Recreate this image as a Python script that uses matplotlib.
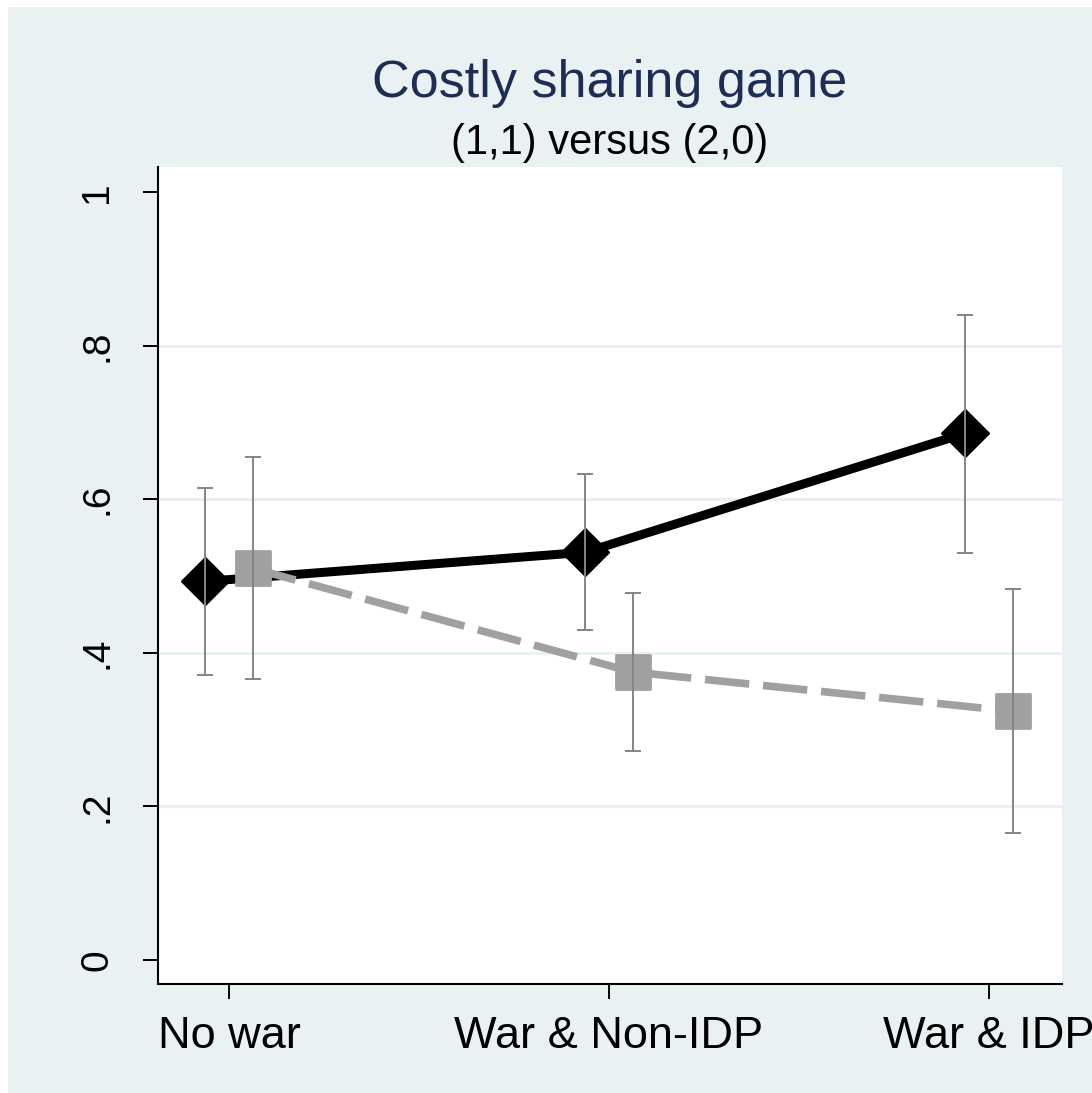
import matplotlib
matplotlib.use("Agg")
import matplotlib.pyplot as plt
from matplotlib.markers import MarkerStyle
from matplotlib.patches import Rectangle
import numpy as np

# data
categories = ["No war", "War & Non-IDP", "War & IDP"]
black_mean = [0.493, 0.531, 0.686]
black_lo = [0.371, 0.430, 0.530]
black_hi = [0.614, 0.633, 0.840]
gray_mean = [0.510, 0.375, 0.324]
gray_lo = [0.366, 0.272, 0.165]
gray_hi = [0.655, 0.478, 0.483]
yticks = [0, 0.2, 0.4, 0.6, 0.8, 1.0]
ytick_labels = ["0", ".2", ".4", ".6", ".8", "1"]

plt.rcParams["font.family"] = ["Liberation Sans", "DejaVu Sans"]
plt.rcParams["lines.scale_dashes"] = False

BG = "#EAF1F3"
GRAY = "#A0A0A0"
ERR = "#858585"

fig = plt.figure(figsize=(10.92, 10.93), dpi=100, facecolor="white")
# light background panel (white strip left/top as in the crop)
fig.patches.append(Rectangle((8 / 1092, 0), 1 - 8 / 1092, 1 - 7 / 1093,
                             transform=fig.transFigure, facecolor=BG,
                             edgecolor="none", zorder=-10))

ax = fig.add_axes([158 / 1092, 1 - 984 / 1093, (1062 - 158) / 1092, (984 - 167) / 1093])
ax.set_facecolor("white")

x = np.arange(1, len(categories) + 1)
off = 0.062

# grid only at inner ticks
for g in yticks[1:-1]:
    ax.axhline(g, color=BG, lw=2.2, zorder=1)

ax.plot(x - off, black_mean, color="black", lw=6.5, solid_capstyle="butt", zorder=2,
        marker="D", ms=24, mec="black", mew=1)
ax.plot(x + off, gray_mean, color=GRAY, lw=5.5, dashes=(32, 10), dash_capstyle="butt",
        zorder=3, marker=MarkerStyle("s", joinstyle="round"), ms=25, mfc=GRAY,
        mec=GRAY, mew=2)

bm = np.array(black_mean)
gm = np.array(gray_mean)
ax.errorbar(x - off, bm, yerr=[bm - np.array(black_lo), np.array(black_hi) - bm],
            fmt="none", ecolor=ERR, elinewidth=1.4, capsize=6, capthick=1.4, zorder=5)
ax.errorbar(x + off, gm, yerr=[gm - np.array(gray_lo), np.array(gray_hi) - gm],
            fmt="none", ecolor=ERR, elinewidth=1.4, capsize=6, capthick=1.4, zorder=5)

ax.set_xlim(0.813, 3.192)
ax.set_ylim(-0.03125, 1.0326)
ax.set_xticks(x)
ax.set_xticklabels(categories, fontsize=32.5)
ax.set_yticks(yticks)
ax.set_yticklabels(ytick_labels, fontsize=28, rotation=90, va="center")
ax.tick_params(axis="both", length=10.8, width=1.4, color="black")
ax.tick_params(axis="x", pad=12.5)
ax.tick_params(axis="y", pad=20)

for s in ["top", "right"]:
    ax.spines[s].set_visible(False)
for s in ["left", "bottom"]:
    ax.spines[s].set_linewidth(1.5)

cx = 610 / 1092
fig.text(cx, 1 - 83 / 1093, "Costly sharing game", ha="center", va="center",
         fontsize=37.5, color="#1E2D55")
fig.text(cx, 1 - 143 / 1093, "(1,1) versus (2,0)", ha="center", va="center",
         fontsize=30, color="black")

fig.savefig("out.png", dpi=100, facecolor="white")
